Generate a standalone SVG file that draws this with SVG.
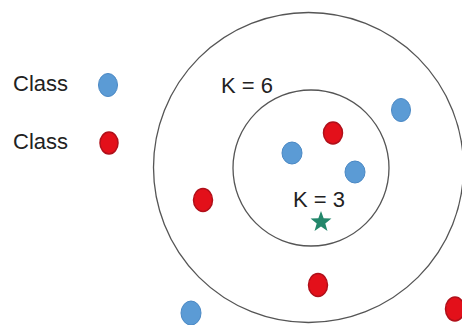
<svg xmlns="http://www.w3.org/2000/svg" width="462" height="325" viewBox="0 0 462 325">
<style>
text{font-family:"Liberation Sans",Arial,sans-serif;font-size:22px;fill:#222}
.ring{fill:none;stroke:#555;stroke-width:1.3}
.b{fill:#5b9bd5;stroke:#4a88c4;stroke-width:1}
.r{fill:#e3101a;stroke:#b0101a;stroke-width:1.5}
.star{fill:#23876b}
</style>
<rect width="462" height="325" fill="#fff"/>
<g id="legend-blue"><text x="13" y="91">Class</text><ellipse class="b" cx="108" cy="85" rx="9.5" ry="11.5"/></g>
<g id="legend-red"><text x="13" y="149">Class</text><ellipse class="r" cx="109" cy="143" rx="9" ry="11"/></g>
<g id="ring-k6"><circle class="ring" cx="308.5" cy="167.5" r="155"/><text x="221" y="93">K = 6</text></g>
<g id="ring-k3"><circle class="ring" cx="311" cy="168" r="78"/><text x="293" y="207">K = 3</text></g>
<g id="query"><polygon class="star" transform="translate(321,222)" points="0,-11 2.65,-3.64 10.46,-3.4 4.28,1.39 6.47,8.9 0,4.5 -6.47,8.9 -4.28,1.39 -10.46,-3.4 -2.65,-3.64"/></g>
<g id="p1"><ellipse class="b" cx="401" cy="110" rx="9.5" ry="11.5"/></g>
<g id="p2"><ellipse class="r" cx="333" cy="133" rx="9.5" ry="11"/></g>
<g id="p3"><ellipse class="b" cx="292" cy="153" rx="10" ry="11"/></g>
<g id="p4"><ellipse class="b" cx="355" cy="172" rx="10" ry="11"/></g>
<g id="p5"><ellipse class="r" cx="203" cy="200" rx="9.5" ry="11.5"/></g>
<g id="p6"><ellipse class="r" cx="318" cy="285" rx="9.5" ry="11.5"/></g>
<g id="p7"><ellipse class="b" cx="191" cy="313" rx="10" ry="12"/></g>
<g id="p8"><ellipse class="r" cx="455" cy="309" rx="9.5" ry="12"/></g>
<g id="connectors"></g>
</svg>
